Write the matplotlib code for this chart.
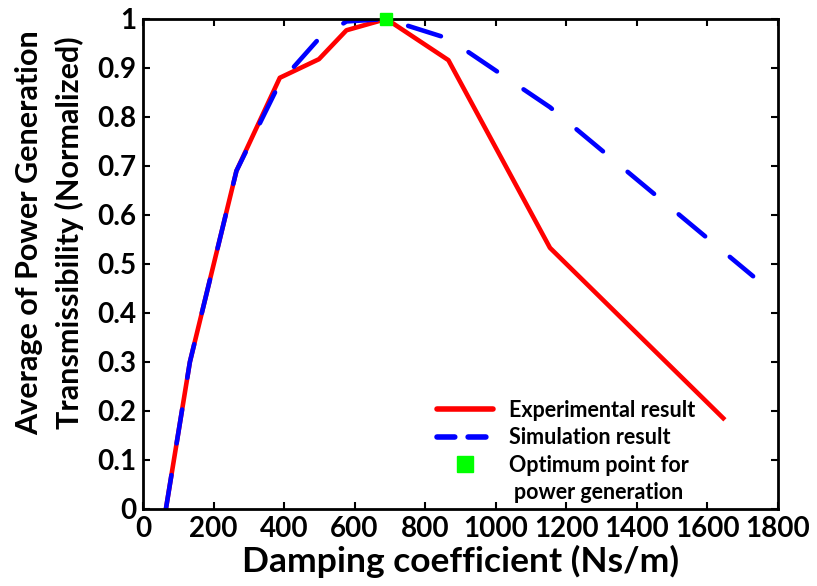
import matplotlib
matplotlib.use("Agg")
import matplotlib.pyplot as plt
from matplotlib.lines import Line2D

plt.rcParams['font.family'] = ['Lato', 'DejaVu Sans']
plt.rcParams['font.weight'] = 'bold'

exp_x = [65, 133, 265, 388, 499, 577, 690, 866, 1154, 1650]
exp_y = [0.0, 0.30, 0.69, 0.88, 0.918, 0.977, 1.0, 0.916, 0.533, 0.182]
sim_x = [65, 133, 265, 388, 499, 577, 690, 866, 1154, 1730]
sim_y = [0.0, 0.30, 0.69, 0.87, 0.96, 0.995, 1.0, 0.96, 0.82, 0.475]
opt_x = [690]
opt_y = [1.0]

xticks = [0, 200, 400, 600, 800, 1000, 1200, 1400, 1600, 1800]
yticks = [0, 0.1, 0.2, 0.3, 0.4, 0.5, 0.6, 0.7, 0.8, 0.9, 1.0]
ytick_labels = ['0', '0.1', '0.2', '0.3', '0.4', '0.5', '0.6', '0.7', '0.8', '0.9', '1']
labels = ['Experimental result', 'Simulation result', 'Optimum point for']
label_extra = 'power generation'

fig = plt.figure(figsize=(8.17, 5.86), dpi=100)
ax = fig.add_axes([0.175, 0.1314, 0.777, 0.8362])

ax.plot(exp_x, exp_y, color='red', lw=3.3, solid_capstyle='butt')
ax.plot(sim_x, sim_y, color='blue', lw=3.3, dashes=(7.5, 7), dash_capstyle='round')
ax.plot(opt_x, opt_y, 's', color='#00ff00', markersize=9, clip_on=False, zorder=5)

ax.set_xlim(0, 1800)
ax.set_ylim(0, 1)
ax.set_xticks(xticks)
ax.set_yticks(yticks)
ax.set_yticklabels(ytick_labels)
ax.tick_params(direction='in', length=5, width=1.5, top=True, right=True,
               labelsize=20, pad=5)
for lab in ax.get_xticklabels() + ax.get_yticklabels():
    lab.set_fontweight('bold')
for s in ax.spines.values():
    s.set_linewidth(2)

ax.set_xlabel('Damping coefficient (Ns/m)', fontsize=25.5, fontweight='bold', labelpad=2)
fig.text(0.0606, 0.6024, 'Average of Power Generation\nTransmissibility (Normalized)',
         rotation=90, ha='center', va='center', fontsize=22, fontweight='bold',
         linespacing=1.5, multialignment='center')

handles = [
    Line2D([], [], color='red', lw=4, solid_capstyle='round'),
    Line2D([], [], color='blue', lw=4, dashes=(3.2, 2.4), dash_capstyle='round'),
    Line2D([], [], marker='s', color='#00ff00', markersize=11, ls='none'),
]
leg = fig.legend(handles, labels, loc='upper left', bbox_to_anchor=(0.535, 0.318),
                 frameon=False, prop={'weight': 'bold', 'size': 15.5},
                 handlelength=2.6, handletextpad=0.75, labelspacing=0.3,
                 borderpad=0, borderaxespad=0)

fig.canvas.draw()
bb = leg.get_texts()[2].get_window_extent(fig.canvas.get_renderer())
cx = (bb.x0 + bb.x1) / 2 / fig.bbox.width
ytop = (bb.y0 - 6) / fig.bbox.height
fig.text(cx, ytop, label_extra, ha='center', va='top', fontsize=15.5, fontweight='bold')

fig.savefig('out.png', dpi=100)
